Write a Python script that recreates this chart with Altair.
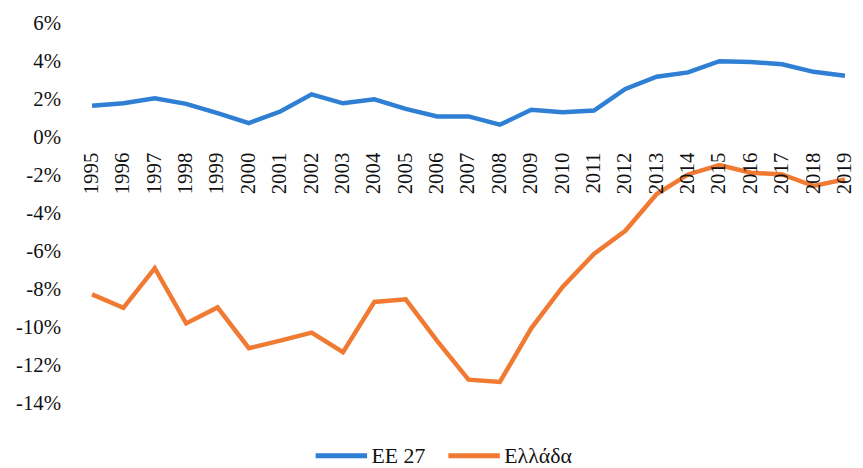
import altair as alt
import pandas as pd

years = list(range(1995, 2020))
eu27 = [1.69, 1.82, 2.08, 1.79, 1.30, 0.78, 1.39, 2.29, 1.82, 2.03, 1.53, 1.13, 1.13,
        0.69, 1.48, 1.35, 1.44, 2.58, 3.22, 3.45, 4.04, 4.00, 3.88, 3.48, 3.27]
greece = [-8.25, -8.96, -6.87, -9.78, -8.94, -11.09, -10.69, -10.27, -11.30, -8.65, -8.51,
          -10.70, -12.75, -12.87, -10.04, -7.86, -6.12, -4.90, -2.96, -1.93, -1.44, -1.84,
          -1.93, -2.54, -2.19]
series_names = ["EE 27", "Ελλάδα"]
colors = ["#2f80d4", "#f07a32"]
y_ticks = list(range(-14, 7, 2))

FONT = "'Liberation Serif', 'Times New Roman', 'DejaVu Serif', serif"

df = pd.DataFrame({
    "year": years * 2,
    "value": eu27 + greece,
    "series": [series_names[0]] * len(years) + [series_names[1]] * len(years),
})
ydf = pd.DataFrame({"year": years, "label": [str(y) for y in years]})

xscale = alt.Scale(domain=[1994.5, 2019.1], nice=False, zero=False)
yscale = alt.Scale(domain=[-14, 6], nice=False, zero=False)

yaxis = alt.Axis(values=y_ticks, labelExpr="datum.value + '%'", grid=False,
                 ticks=False, tickSize=0, domain=False, labelFont=FONT,
                 labelFontSize=21, labelColor="#111", labelPadding=16,
                 labelOverlap=False, labelBound=False, title=None)

lines = alt.Chart(df).mark_line(strokeWidth=4.5).encode(
    x=alt.X("year:Q", scale=xscale, axis=None),
    y=alt.Y("value:Q", scale=yscale, axis=yaxis),
    color=alt.Color("series:N",
                    scale=alt.Scale(domain=series_names, range=colors),
                    legend=alt.Legend(orient="none", legendX=239, legendY=407,
                                      direction="horizontal", symbolType="stroke",
                                      symbolSize=2700, symbolStrokeWidth=5,
                                      labelFont=FONT, labelFontSize=22, labelColor="#111",
                                      labelOffset=2, columnPadding=12, padding=0,
                                      title=None)),
)

labels = alt.Chart(ydf).mark_text(angle=270, align="right", baseline="middle", dx=-15,
                                  font=FONT, fontSize=21, color="#111").encode(
    x=alt.X("year:Q", scale=xscale, axis=None),
    y=alt.YDatum(0, scale=yscale, axis=yaxis),
    text="label:N",
)

chart = alt.layer(lines, labels).properties(
    width=779, height=383,
    padding={"left": 69, "top": 14, "right": 7, "bottom": 62},
    autosize=alt.AutoSizeParams(type="none"),
).configure_view(stroke=None).configure_axisY(labelOverlap=False)

chart.save("out.html", embed_options={"renderer": "svg", "actions": False})
